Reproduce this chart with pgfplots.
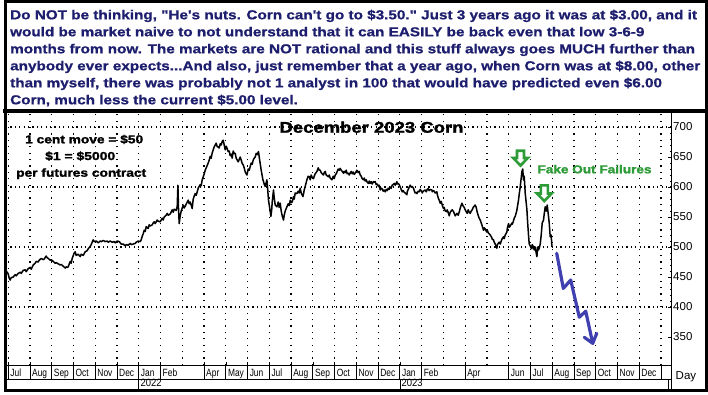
\documentclass[border=0pt]{standalone}
\usepackage{pgfplots}
\pgfplotsset{compat=1.18}
\usepackage{pgfplotstable}
\usepackage{graphicx}
\usepackage{fontspec}
\setmainfont{Liberation Sans}
\newfontfamily\arial{Liberation Sans}
\newfontfamily\arialt{Liberation Sans}[FakeBold=0.8]
\newfontfamily\heavy{Liberation Sans}[FakeBold=1.5]
\definecolor{navy}{RGB}{30,30,110}
\definecolor{fgreen}{RGB}{45,155,55}
\definecolor{zblue}{RGB}{64,64,176}
\newcommand\ml[1]{\scalebox{0.8}[1]{#1}}
\newcommand\tbf{\arialt\bfseries\fontsize{13bp}{15bp}\selectfont}
\newcommand\tickf{\arial\fontsize{11.5bp}{12bp}\selectfont}
\newcommand\monf{\arial\fontsize{10.5bp}{11bp}\selectfont}
\newcommand\LineOne{Do NOT be thinking, "He\textquotesingle s nuts. Corn can\textquotesingle t go to \$3.50." Just 3 years ago it was at \$3.00, and it}
\newlength\Lw

% December 2023 corn futures, cents per bushel; x = trading day from 1 Jul 2021
\pgfplotstableread{
day v
-1.3 459
0 455
1 448
2 445
3 449
5 450
7 454
8 452
10 456
12 458
13 456
15 461
17 462
18 459
20 464
22 466
23 463
25 470
27 473
28 476
30 475
31 478
33 481
35 479
36 480
38 485
39 482
40 481
42 478
43 479
45 476
47 473
48 474
50 472
52 470
53 471
55 468
57 465
58 467
59 466
60 467
62 476
63 473
64 481
66 490
67 492
68 486
70 488
72 484
73 488
75 486
77 492
79 494
80 497
82 501
83 504
85 512
86 509
88 510
90 507
92 510
93 509
95 511
97 509
99 510
100 508
102 510
104 508
106 509
107 507
109 510
111 509
113 505
115 505
117 502
118 504
120 503
122 506
123 504
125 505
127 506
128 508
130 510
132 509
133 512
134 518
135 522
136 528
137 526
138 534
140 531
141 537
142 535
144 537
145 540
146 542
147 539
149 545
150 543
152 542
154 548
155 545
156 550
158 553
159 556
160 553
162 555
164 562
165 558
166 563
168 561
169 567
169.7 603
170.3 565
171 539
172 552
173 560
175 570
176 565
177 568
179 575
180 578
181 572
182 575
183 570
184 564
185 580
186 585
187 589
188 586
189 592
190 598
192 604
193 602
194 612
196 622
197 628
199 636
200 640
201 645
202 651
203 648
204 657
205 662
206 667
207 670
208 673
209 667
210 667
211 665
212 672
213 670
214 676
215 678
216 670
217 662
218 668
219 664
220 659
221 660
222 652
223 655
224 648
225 660
226 656
227 656
228 648
229 645
230 642
231 646
232 650
233 645
234 639
235 637
236 632
237 625
238.7 620
239.5 626
240 630
241 628
242 634
243 640
244 638
245 645
246 648
247 650
248 656
249 654
250.3 659
251 650
252 639
253 628
254.7 612
255.5 608
256 605
257 601
258.7 612
259.5 596
260.3 578
261.5 565
262.7 551
263.5 562
264 575
265.3 595
266 582
267 570
268.7 567
270 575
271 566
272 573
273 560
274 552
275.3 545
276 553
277 560
278.7 567
280 572
281 569
282 578
283 574
284 575
285.3 584
286 580
287 590
288.7 589
290 593
291 590
292 598
293 590
294.7 584
295.5 590
296 595
297 601
298.7 612
300 618
301.3 617
302 612
303 620
304 616
305.3 614
306 618
307 622
308.7 626
310 632
311 628
312 628
313 624
314 622
315.3 620
316 624
317 626
318 620
320.3 617
321 620
322 615
323.7 612
325 618
326 614
327 620
328 622
329 626
330 630
331 628
332 631
333 628
334 626
335.3 623
336 626
337 624
338 628
339 622
340.3 623
341 620
342 623
343 626
344 622
345 625
346 621
347 623
348.7 628
350 624
351 626
352 620
353 618
354 614
355.3 612
356 615
357 610
358 612
359 608
360.3 606
361 610
362 606
363 609
364 605
365.3 609
366 608
367 609
368 604
369 605
370.3 601
371 603
372 595
373 598
374 597
375 593
376 595
377 592
378 596
379 594
380 598
381 596
382 600
383 598
384 603
385 604
386 606
387 603
388.7 609
389 605
390 606
391 604
392 600
393 596
394 592
395 594
396 591
397 590
398.7 587
399 592
400 596
401 600
402 603
403 600
404 601
405.3 598
406 594
407 590
408 591
408.7 589
410 593
411 592
412 596
413.7 592
414 590
415 593
416 594
417 595
418 592
419 596
420 597
421 594
422 596
423.7 595
424 592
425 594
426 593
427 590
428.7 592
429 588
430 582
431 578
432 573
433 576
434 570
435.3 564
436 566
437 560
438.7 559
439 562
440.3 556
441 552
442 558
443 560
444 562
445.3 559
446 556
447 552
448.7 556
450 553
451 558
452 565
453.7 573
455 568
456 566
457 562
458 559
459 556
460 562
461 558
462 556
463 560
464 562
465 566
467 570
468 566
469 558
470.3 551
471 548
472 545
473 540
474 535
475.3 528
476 532
477 530
478.5 525
479 528
480.3 523
481 522
482 520
483.5 516
484 513
485.3 512
486 508
487 505
488.7 498
489 503
490 506
491 508
492 505
493.5 512
494 514
495.3 517
496 514
497 520
498.7 525
499 530
500.3 539
501 533
502 535
503.7 540
504 538
505 542
506 548
507 551
508.5 560
509 565
510.3 578
511 588
512 600
513 615
513.7 626
514.5 630
515.3 612
516 618
517 590
518.7 562
519.5 539
520.3 520
521 505
522 502
523 498
523.7 497
524 504
525.3 500
526 495
527 500
528 490
528.7 484
529.5 500
530.3 495
531 498
532 505
533 520
533.7 534
534 540
535.3 545
536 555
537 567
538 560
539 570
540.3 551
541 540
542 517
543 520
543.7 500
}\corn

\begin{document}%
\settowidth\Lw{\tbf\LineOne}%
\pgfmathsetmacro\sx{689.4/\Lw}%
\begin{tikzpicture}
\begin{scope}[x=1bp,y=-1bp]
\path[use as bounding box] (0,0) rectangle (708,394);
\fill[white] (0,0) rectangle (708,394);
% text box
\begin{scope}[every node/.style={anchor=base west, inner sep=0pt, text=navy}]
\node at (10,19.3) {\scalebox{\sx}[1]{\tbf\LineOne}};
\node at (10,36.3) {\scalebox{\sx}[1]{\tbf would be market naive to not understand that it can EASILY be back even that low 3-6-9}};
\node at (10,53.3) {\scalebox{\sx}[1]{\tbf months from now. The markets are NOT rational and this stuff always goes MUCH further than}};
\node at (10,70.3) {\scalebox{\sx}[1]{\tbf anybody ever expects...And also, just remember that a year ago, when Corn was at \$8.00, other}};
\node at (10,87.3) {\scalebox{\sx}[1]{\tbf than myself, there was probably not 1 analyst in 100 that would have predicted even \$6.00}};
\node at (10,104.3) {\scalebox{\sx}[1]{\tbf Corn, much less the current \$5.00 level.}};
\end{scope}
\end{scope}

\begin{axis}[
  at={(6bp,-365bp)}, anchor=south west,
  scale only axis, width=665bp, height=252.5bp,
  xmin=-2.2, xmax=662.8, ymin=303.33, ymax=724.17,
  axis line style={black, line width=0.8bp},
  clip mode=individual,
  xtick={0,21.76,43.52,65.28,87.04,108.8,130.56,152.32,195.84,217.6,239.36,261.12,282.88,304.64,326.4,348.16,369.92,391.68,413.44,456.96,500.48,522.24,544,565.76,587.52,609.28,631.04},
  xticklabels={\ml{Jul},\ml{Aug},\ml{Sep},\ml{Oct},\ml{Nov},\ml{Dec},\ml{Jan},\ml{Feb},\ml{Apr},\ml{May},\ml{Jun},\ml{Jul},\ml{Aug},\ml{Sep},\ml{Oct},\ml{Nov},\ml{Dec},\ml{Jan},\ml{Feb},\ml{Apr},\ml{Jun},\ml{Jul},\ml{Aug},\ml{Sep},\ml{Oct},\ml{Nov},\ml{Dec}},
  minor xtick={174.08,435.2,478.72,652.8},
  xtick pos=lower,
  xticklabel style={font=\monf, anchor=north west, inner sep=0pt, xshift=2bp, yshift=-4bp},
  xmajorgrids, xminorgrids,
  major x grid style={black, line width=1.2bp, dash pattern=on 1.2bp off 5.2bp},
  minor x grid style={black, line width=1.2bp, dash pattern=on 1.2bp off 5.2bp},
  ytick={400,500,600,700},
  extra y ticks={350,450,550,650},
  extra y tick style={grid=none},
  minor y tick num=9,
  ymajorgrids,
  major y grid style={black, line width=1.2bp, dash pattern=on 1.2bp off 3.2bp},
  ytick pos=right, yticklabel pos=right,
  tick align=inside,
  major tick length=3bp, minor tick length=1.5bp,
  tick style={black, line width=0.6bp},
  yticklabel style={font=\tickf, anchor=west, inner sep=0pt, xshift=2bp},
  /pgf/number format/assume math mode=true,
]
\addplot[black, line width=1.5bp, line join=round] table[x=day, y=v] {\corn};
\addplot[zblue, line width=3.2bp, line join=round, line cap=round] coordinates {(548.5,489.5) (555.1,431) (562.5,445) (571.1,383) (577.5,393) (584.5,339.5)};
\addplot[zblue, line width=3.2bp, line join=round, line cap=round] coordinates {(576.1,349.5) (584.5,339.5) (588.5,356)};
\end{axis}

\begin{scope}[x=1bp,y=-1bp]
% chart annotations
\node[anchor=base west, inner sep=0pt] at (279.3,132.7) {\resizebox{184bp}{\height}{\heavy\bfseries\fontsize{15.5bp}{16bp}\selectfont December 2023 Corn}};
\node[anchor=base west, inner sep=0pt] at (25,143.3) {\resizebox{118bp}{\height}{\heavy\bfseries\fontsize{11.5bp}{12bp}\selectfont 1 cent move = \$50}};
\node[anchor=base west, inner sep=0pt] at (45,160) {\resizebox{70bp}{\height}{\heavy\bfseries\fontsize{11.5bp}{12bp}\selectfont \$1 = \$5000}};
\node[anchor=base west, inner sep=0pt] at (16,176.7) {\resizebox{130bp}{\height}{\heavy\bfseries\fontsize{11.5bp}{12bp}\selectfont per futures contract}};
\node[anchor=base west, inner sep=0pt, text=fgreen] at (537.3,173.3) {\resizebox{114bp}{\height}{\heavy\bfseries\fontsize{11.5bp}{12bp}\selectfont Fake Out Failures}};
% green hollow arrows
\draw[fgreen, line width=2.6bp, fill=white, line join=miter] (517,150.7) -- (524,150.7) -- (524,158) -- (527.8,158) -- (520.5,165.5) -- (513.2,158) -- (517,158) -- cycle;
\draw[fgreen, line width=2.6bp, fill=white, line join=miter] (540.8,185.3) -- (547.8,185.3) -- (547.8,193.5) -- (551.6,193.5) -- (544.3,201) -- (537,193.5) -- (540.8,193.5) -- cycle;
% bottom label rows
\draw[black, line width=0.8bp] (6,379) -- (671,379);
\foreach \d in {0,21.76,43.52,65.28,87.04,108.8,130.56,152.32,195.84,217.6,239.36,261.12,282.88,304.64,326.4,348.16,369.92,391.68,413.44,456.96,500.48,522.24,544,565.76,587.52,609.28,631.04,652.8}
  \draw[black, line width=0.8bp] (8.2+\d,365) -- (8.2+\d,379);
\draw[black, line width=0.8bp] (138.8,379) -- (138.8,390);
\draw[black, line width=0.8bp] (399.9,379) -- (399.9,390);
\draw[black, line width=0.8bp] (668,379) -- (668,390);
\draw[black, line width=0.8bp] (671,360) -- (671,390);
\node[anchor=base west, inner sep=0pt] at (140.5,386.7) {\monf\scalebox{0.9}[1]{2022}};
\node[anchor=base west, inner sep=0pt] at (401.5,386.7) {\monf\scalebox{0.9}[1]{2023}};
\node[anchor=base west, inner sep=0pt] at (675.5,379) {\tickf Day};
% frames
\draw[black, line width=4bp] (3,110.5) -- (706,110.5);
\draw[black, line width=3bp] (5,1.5) rectangle (706.5,390.5);
\end{scope}
\end{tikzpicture}
\end{document}
